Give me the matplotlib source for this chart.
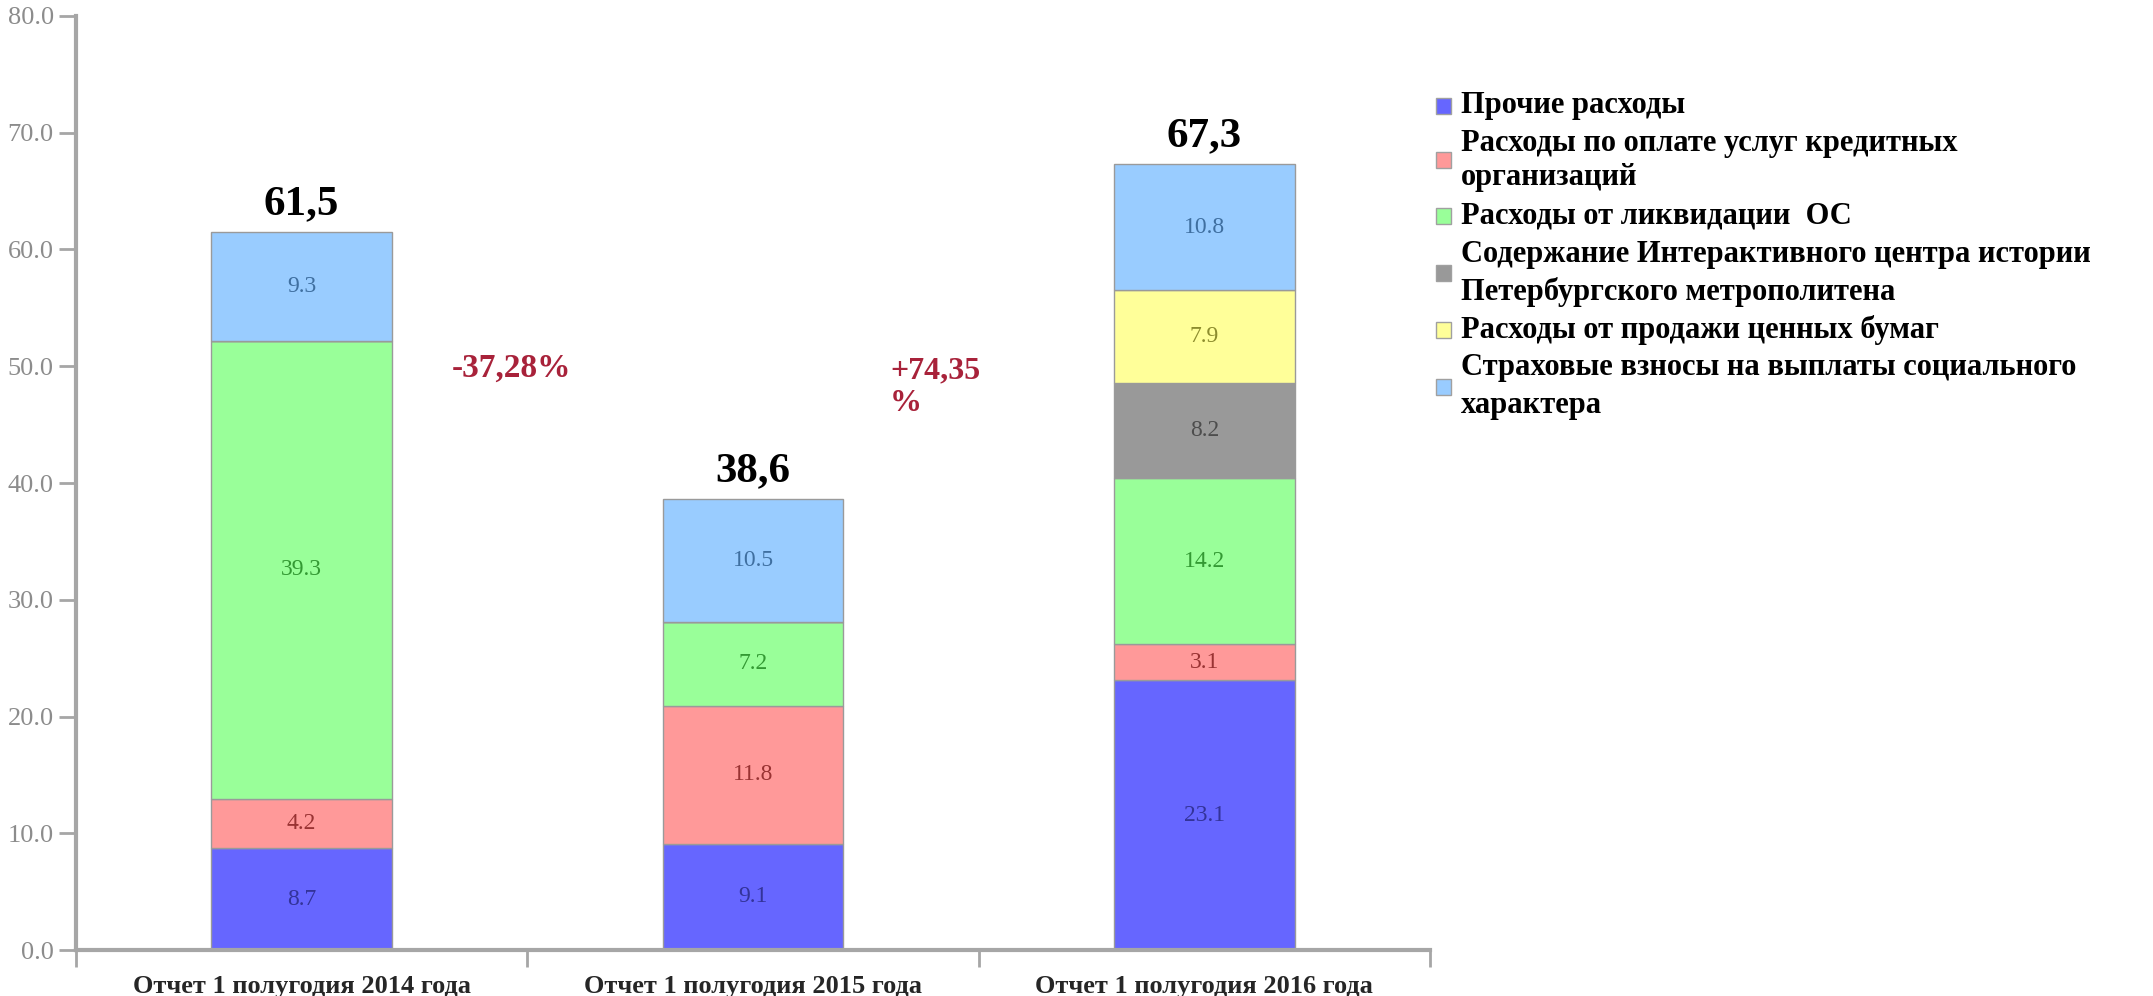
import numpy as np
import matplotlib
matplotlib.use('Agg')
import matplotlib.pyplot as plt
from matplotlib.patches import Rectangle

plt.rcParams['font.family'] = ['Liberation Serif', 'DejaVu Serif']

categories = ['Отчет 1 полугодия 2014 года', 'Отчет 1 полугодия 2015 года', 'Отчет 1 полугодия 2016 года']
series_names = ['Прочие расходы',
                'Расходы по оплате услуг кредитных\nорганизаций',
                'Расходы от ликвидации  ОС',
                'Содержание Интерактивного центра истории\nПетербургского метрополитена',
                'Расходы от продажи ценных бумаг',
                'Страховые взносы на выплаты социального\nхарактера']
prochie = [8.7, 9.1, 23.1]
kredit = [4.2, 11.8, 3.1]
likvid = [39.3, 7.2, 14.2]
metro = [0.0, 0.0, 8.2]
bumagi = [0.0, 0.0, 7.9]
strah = [9.3, 10.5, 10.8]
totals = ['61,5', '38,6', '67,3']
changes = ['-37,28%', '+74,35\n%']

colors = ['#6666FF', '#FF9999', '#99FF99', '#999999', '#FFFF99', '#99CCFF']
label_colors = ['#333399', '#993333', '#339933', '#4D4D4D', '#8C8C2E', '#3F6FA0']

series = [prochie, kredit, likvid, metro, bumagi, strah]

fig = plt.figure(figsize=(21.53, 9.96), dpi=100)
ax = fig.add_axes([76 / 2153, 46 / 996, (1430 - 76) / 2153, (950 - 16) / 996])

x = np.arange(len(categories))
bottom = np.zeros(len(categories))
for vals, c, lc in zip(series, colors, label_colors):
    vals = np.array(vals)
    ax.bar(x, vals, 0.4, bottom=bottom, color=c, edgecolor='#9A9A9A', linewidth=1)
    for xi, b, v in zip(x, bottom, vals):
        if v > 0:
            ax.text(xi, b + v / 2, f'{v:.1f}', ha='center', va='center', fontsize=17, color=lc)
    bottom = bottom + vals

for xi, top, t in zip(x, bottom, totals):
    ax.text(xi, top + 2.4, t, ha='center', va='center', fontsize=31, fontweight='bold', color='black')

ax.text(0.466, 49.85, changes[0], ha='center', va='center', fontsize=24, fontweight='bold', color='#A8223A')
ax.text(1.304, 48.2, changes[1], ha='left', va='center', fontsize=23, fontweight='bold', color='#A8223A',
        linespacing=1.15)

ax.set_xlim(-0.5, 2.5)
ax.set_ylim(0, 80)
ax.set_yticks(np.arange(0, 81, 10))
ax.set_yticklabels([f'{v:.1f}' for v in np.arange(0, 81, 10)], fontsize=19, color='#8C8C8C')
ax.set_xticks([-0.5, 0.5, 1.5, 2.5])
ax.set_xticklabels([])
ax.set_xticks(x, minor=True)
ax.set_xticklabels(categories, minor=True, fontsize=19, fontweight='bold', color='#262626')
ax.tick_params(axis='x', which='minor', length=0, pad=18)
ax.tick_params(axis='x', which='major', length=12, width=2, color='#A6A6A6', direction='out')
ax.tick_params(axis='y', length=12, width=2, color='#A6A6A6', direction='out', pad=4)
for s in ['top', 'right']:
    ax.spines[s].set_visible(False)
for s in ['left', 'bottom']:
    ax.spines[s].set_color('#A6A6A6')
    ax.spines[s].set_linewidth(3)

# legend drawn by hand so two-line entries keep the box centred
line_y = [106, 143, 178, 216, 254, 292, 330, 368, 406]
entry_lines = [[0], [1, 2], [3], [4, 5], [6], [7, 8]]
for name, c, lines in zip(series_names, colors, entry_lines):
    parts = name.split('\n')
    for part, li in zip(parts, lines):
        fig.text(1461 / 2153, 1 - line_y[li] / 996, part, ha='left', va='center', fontsize=22,
                 fontweight='bold', color='black')
    yc = np.mean([line_y[li] for li in lines])
    fig.patches.append(Rectangle((1436 / 2153, 1 - (yc + 8) / 996), 15 / 2153, 16 / 996,
                                 transform=fig.transFigure, facecolor=c, edgecolor='#A0A0A0', linewidth=1))

plt.savefig('out.png', dpi=100)
